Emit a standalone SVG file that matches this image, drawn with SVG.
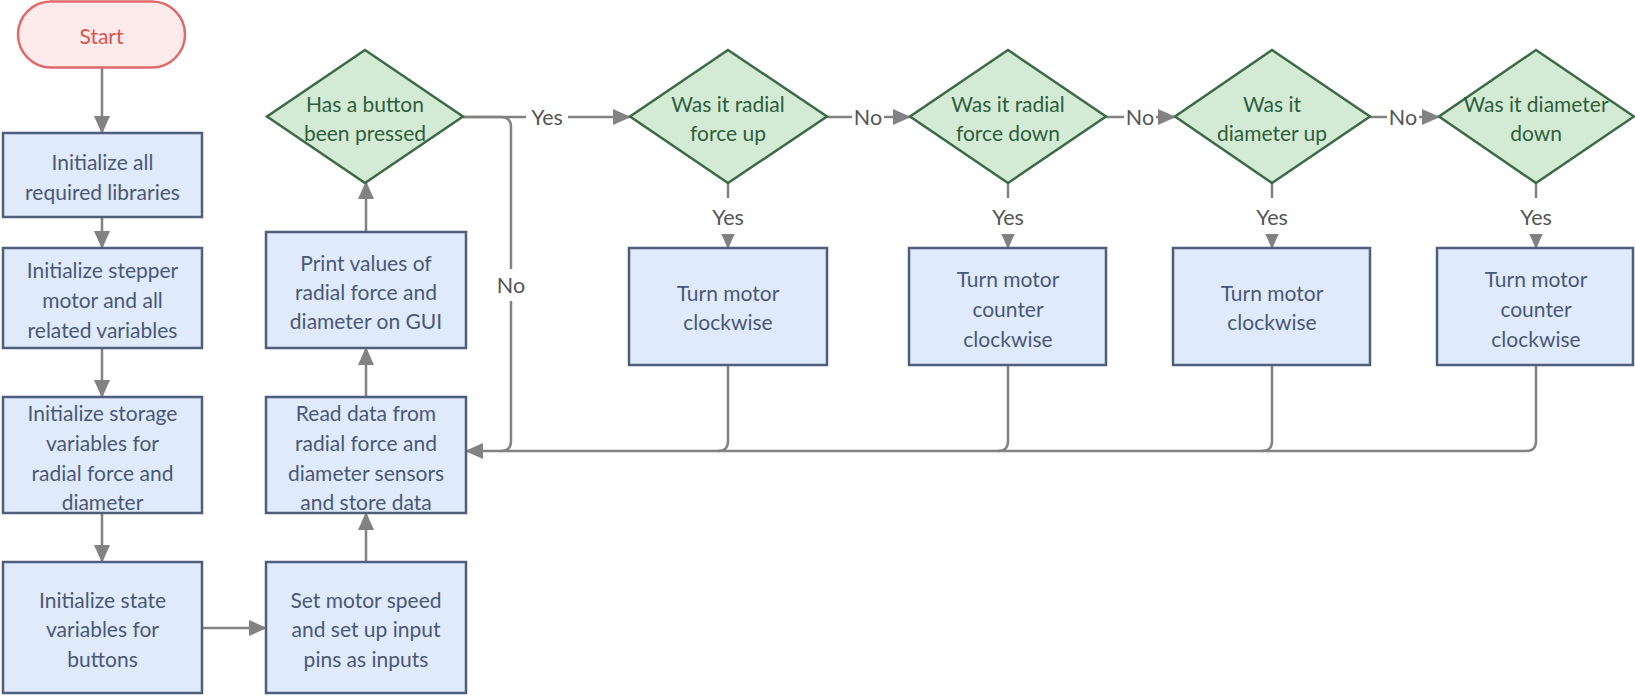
<svg xmlns="http://www.w3.org/2000/svg" width="1635" height="696" viewBox="0 0 1635 696">
<style>
.box{fill:#dfeafb;stroke:#4f5e7b;stroke-width:2.5}
.dia{fill:#d3ebd5;stroke:#3c6a45;stroke-width:2.5}
.start{fill:#fdeaea;stroke:#e06a6a;stroke-width:2.5}
.bt{font-family:Lato,"Liberation Sans",sans-serif;font-size:21px;fill:#4a5878;text-anchor:middle;dominant-baseline:central}
.dt{font-family:Lato,"Liberation Sans",sans-serif;font-size:21px;fill:#2f5e3a;text-anchor:middle;dominant-baseline:central}
.st{font-family:Lato,"Liberation Sans",sans-serif;font-size:21px;fill:#d9534f;text-anchor:middle;dominant-baseline:central}
.lbl{font-family:Lato,"Liberation Sans",sans-serif;font-size:21.5px;fill:#555;text-anchor:middle;dominant-baseline:central}
.c{fill:none;stroke:#828282;stroke-width:2.5}
.ca{fill:none;stroke:#828282;stroke-width:2.5;marker-end:url(#ah)}
.lbg{fill:#fff}
</style>
<defs>
<marker id="ah" markerUnits="userSpaceOnUse" markerWidth="18" markerHeight="18" viewBox="0 0 18 18" refX="17" refY="9" orient="auto">
<path d="M0,1 L18,9 L0,17 z" fill="#828282"/>
</marker>
</defs>
<rect width="1635" height="696" fill="#fff"/>

<g id="connectors">
<path class="ca" d="M102,68 V133"/>
<path class="ca" d="M102,217 V248"/>
<path class="ca" d="M102,348 V397"/>
<path class="ca" d="M102,513 V562"/>
<path class="ca" d="M202,628 H266"/>
<path class="ca" d="M366,562 V513"/>
<path class="ca" d="M366,397 V348"/>
<path class="ca" d="M366,232 V182"/>
<path class="ca" d="M463,117 H630"/>
<path class="ca" d="M827,117 H910"/>
<path class="ca" d="M1106,117 H1175"/>
<path class="ca" d="M1370,117 H1439"/>
<path class="c" d="M463,117 H501 Q511,117 511,127 V441 Q511,451 501,451"/>
<path class="ca" d="M1536,365 V441 Q1536,451 1526,451 H466"/>
<path class="c" d="M728,365 V441 Q728,451 718,451"/>
<path class="c" d="M1008,365 V441 Q1008,451 998,451"/>
<path class="c" d="M1272,365 V441 Q1272,451 1262,451"/>
<path class="ca" d="M728,183 V248"/>
<path class="ca" d="M1008,183 V248"/>
<path class="ca" d="M1272,183 V248"/>
<path class="ca" d="M1536,183 V248"/>
<rect class="lbg" x="526" y="104" width="42" height="26"/>
<text class="lbl" x="547" y="117">Yes</text>
<rect class="lbg" x="852" y="104" width="32" height="26"/>
<text class="lbl" x="868" y="117">No</text>
<rect class="lbg" x="1124" y="104" width="32" height="26"/>
<text class="lbl" x="1140" y="117">No</text>
<rect class="lbg" x="1387" y="104" width="32" height="26"/>
<text class="lbl" x="1403" y="117">No</text>
<rect class="lbg" x="496" y="269" width="30" height="32"/>
<text class="lbl" x="511" y="285">No</text>
<rect class="lbg" x="706" y="198" width="44" height="36"/>
<text class="lbl" x="728" y="217">Yes</text>
<rect class="lbg" x="986" y="198" width="44" height="36"/>
<text class="lbl" x="1008" y="217">Yes</text>
<rect class="lbg" x="1250" y="198" width="44" height="36"/>
<text class="lbl" x="1272" y="217">Yes</text>
<rect class="lbg" x="1514" y="198" width="44" height="36"/>
<text class="lbl" x="1536" y="217">Yes</text>
</g>

<g id="start">
<rect class="start" x="18" y="1.5" width="167" height="66" rx="33"/>
<text class="st" x="101.5" y="35">Start</text>
</g>

<g id="init-libs">
<rect class="box" x="3" y="133" width="199" height="84"/>
<text class="bt" x="102.5" y="161">Initialize all</text>
<text class="bt" x="102.5" y="191">required libraries</text>
</g>

<g id="init-stepper">
<rect class="box" x="3" y="248" width="199" height="100"/>
<text class="bt" x="102.5" y="269">Initialize stepper</text>
<text class="bt" x="102.5" y="299">motor and all</text>
<text class="bt" x="102.5" y="329">related variables</text>
</g>

<g id="init-storage">
<rect class="box" x="3" y="397" width="199" height="116"/>
<text class="bt" x="102.5" y="412">Initialize storage</text>
<text class="bt" x="102.5" y="442">variables for</text>
<text class="bt" x="102.5" y="472">radial force and</text>
<text class="bt" x="102.5" y="501">diameter</text>
</g>

<g id="init-state">
<rect class="box" x="3" y="562" width="199" height="131"/>
<text class="bt" x="102.5" y="599">Initialize state</text>
<text class="bt" x="102.5" y="628">variables for</text>
<text class="bt" x="102.5" y="658">buttons</text>
</g>

<g id="set-motor">
<rect class="box" x="266" y="562" width="200" height="131"/>
<text class="bt" x="366" y="599">Set motor speed</text>
<text class="bt" x="366" y="628">and set up input</text>
<text class="bt" x="366" y="658">pins as inputs</text>
</g>

<g id="read-data">
<rect class="box" x="266" y="397" width="200" height="116"/>
<text class="bt" x="366" y="412">Read data from</text>
<text class="bt" x="366" y="442">radial force and</text>
<text class="bt" x="366" y="472">diameter sensors</text>
<text class="bt" x="366" y="501">and store data</text>
</g>

<g id="print-values">
<rect class="box" x="266" y="232" width="200" height="116"/>
<text class="bt" x="366" y="262">Print values of</text>
<text class="bt" x="366" y="291">radial force and</text>
<text class="bt" x="366" y="320">diameter on GUI</text>
</g>

<g id="button-pressed">
<polygon class="dia" points="365,50 463,116.5 365,183 267,116.5"/>
<text class="dt" x="365" y="103">Has a button</text>
<text class="dt" x="365" y="132">been pressed</text>
</g>

<g id="radial-up">
<polygon class="dia" points="728,50 827,116.5 728,183 630,116.5"/>
<text class="dt" x="728" y="103">Was it radial</text>
<text class="dt" x="728" y="132">force up</text>
</g>

<g id="radial-down">
<polygon class="dia" points="1008,50 1106,116.5 1008,183 910,116.5"/>
<text class="dt" x="1008" y="103">Was it radial</text>
<text class="dt" x="1008" y="132">force down</text>
</g>

<g id="diameter-up">
<polygon class="dia" points="1272,50 1370,116.5 1272,183 1175,116.5"/>
<text class="dt" x="1272" y="103">Was it</text>
<text class="dt" x="1272" y="132">diameter up</text>
</g>

<g id="diameter-down">
<polygon class="dia" points="1536,50 1634,116.5 1536,183 1439,116.5"/>
<text class="dt" x="1536" y="103">Was it diameter</text>
<text class="dt" x="1536" y="132">down</text>
</g>

<g id="turn-cw-1">
<rect class="box" x="629" y="248" width="198" height="117"/>
<text class="bt" x="728" y="292">Turn motor</text>
<text class="bt" x="728" y="321">clockwise</text>
</g>

<g id="turn-ccw-1">
<rect class="box" x="909" y="248" width="197" height="117"/>
<text class="bt" x="1008" y="278">Turn motor</text>
<text class="bt" x="1008" y="308">counter</text>
<text class="bt" x="1008" y="338">clockwise</text>
</g>

<g id="turn-cw-2">
<rect class="box" x="1173" y="248" width="197" height="117"/>
<text class="bt" x="1272" y="292">Turn motor</text>
<text class="bt" x="1272" y="321">clockwise</text>
</g>

<g id="turn-ccw-2">
<rect class="box" x="1437" y="248" width="196" height="117"/>
<text class="bt" x="1536" y="278">Turn motor</text>
<text class="bt" x="1536" y="308">counter</text>
<text class="bt" x="1536" y="338">clockwise</text>
</g>
</svg>
